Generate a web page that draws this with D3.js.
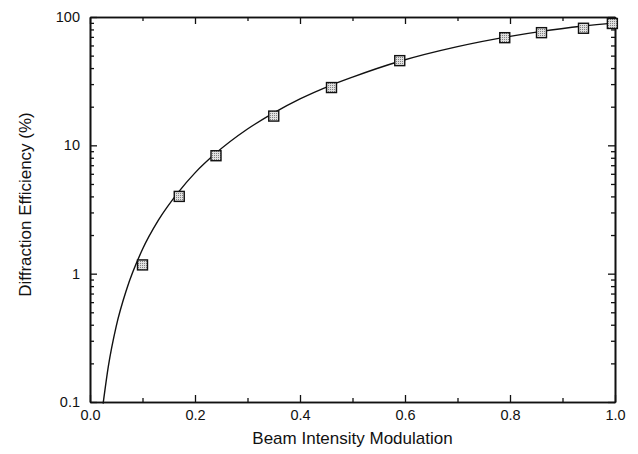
<!DOCTYPE html>
<html>
<head>
<meta charset="utf-8">
<script src="https://cdn.jsdelivr.net/npm/d3@7"></script>
<style>
  body { margin: 0; background: #fff; }
  svg text { font-family: "Liberation Sans", Arial, sans-serif; fill: #111; }
</style>
</head>
<body>
<div id="chart"></div>
<script>
// measured points
const modulation = [0.10, 0.17, 0.24, 0.35, 0.46, 0.59, 0.79, 0.86, 0.94, 0.995];
const efficiency = [1.17, 4.0, 8.3, 16.9, 28.2, 45.7, 69, 75.5, 81.7, 89];

// fitted curve
const curveX = [0.025, 0.035, 0.05, 0.07, 0.10, 0.13, 0.17, 0.20, 0.24, 0.30, 0.35, 0.40, 0.46, 0.50, 0.59, 0.70, 0.80, 0.86, 0.94, 1.00];
const curveY = [0.097, 0.19, 0.39, 0.76, 1.55, 2.6, 4.4, 6.1, 8.7, 13.4, 17.9, 23, 29.5, 34, 45.2, 58.8, 70.7, 77.3, 85, 90];

const xTicks = [0, 0.2, 0.4, 0.6, 0.8, 1.0];
const yTicks = [0.1, 1, 10, 100];

const W = 638, H = 454;
const margin = {top: 17, right: 23, bottom: 52, left: 90};
const width = W - margin.left - margin.right;
const height = H - margin.top - margin.bottom;

const svg = d3.select("#chart").append("svg")
    .attr("width", W)
    .attr("height", H);
const g = svg.append("g")
    .attr("transform", `translate(${margin.left},${margin.top})`);

const x = d3.scaleLinear().domain([0, 1]).range([0, width]);
const y = d3.scaleLog().domain([0.1, 100]).range([height, 0]);

// minor ticks
const xMinor = d3.range(0.1, 1, 0.2);
const yMinor = [];
[0.1, 1, 10].forEach(d => { for (let k = 2; k <= 9; k++) yMinor.push(d * k); });

// axes, ticks pointing inward on all four sides
const fmtX = d3.format(".1f");
g.append("g").attr("transform", `translate(0,${height})`)
    .call(d3.axisBottom(x).tickValues(xTicks).tickFormat(fmtX).tickSizeInner(-7).tickSizeOuter(0).tickPadding(8));
g.append("g")
    .call(d3.axisTop(x).tickValues(xTicks).tickFormat("").tickSizeInner(-7).tickSizeOuter(0));
g.append("g")
    .call(d3.axisLeft(y).tickValues(yTicks).tickFormat(d => d < 1 ? "0.1" : d3.format("d")(d)).tickSizeInner(-7).tickSizeOuter(0).tickPadding(10));
g.append("g").attr("transform", `translate(${width},0)`)
    .call(d3.axisRight(y).tickValues(yTicks).tickFormat("").tickSizeInner(-7).tickSizeOuter(0));

g.append("g").attr("transform", `translate(0,${height})`)
    .call(d3.axisBottom(x).tickValues(xMinor).tickFormat("").tickSizeInner(-4).tickSizeOuter(0));
g.append("g")
    .call(d3.axisTop(x).tickValues(xMinor).tickFormat("").tickSizeInner(-4).tickSizeOuter(0));
g.append("g")
    .call(d3.axisLeft(y).tickValues(yMinor).tickFormat("").tickSizeInner(-4).tickSizeOuter(0));
g.append("g").attr("transform", `translate(${width},0)`)
    .call(d3.axisRight(y).tickValues(yMinor).tickFormat("").tickSizeInner(-4).tickSizeOuter(0));

g.selectAll(".domain").attr("stroke", "#111").attr("stroke-width", 1.6);
g.selectAll(".tick line").attr("stroke", "#111").attr("stroke-width", 1.3);
g.selectAll(".tick text").style("font-size", "14.5px").attr("fill", "#111");

// curve
const line = d3.line()
    .x((d, i) => x(curveX[i]))
    .y(d => y(d))
    .curve(d3.curveMonotoneX);
g.append("path")
    .datum(curveY)
    .attr("d", line)
    .attr("fill", "none")
    .attr("stroke", "#111")
    .attr("stroke-width", 1.4);

// markers
const defs = svg.append("defs");
const pat = defs.append("pattern")
    .attr("id", "dots").attr("width", 2).attr("height", 2)
    .attr("patternUnits", "userSpaceOnUse");
pat.append("rect").attr("width", 2).attr("height", 2).attr("fill", "#e0e0e0");
pat.append("rect").attr("width", 1).attr("height", 1).attr("fill", "#808080");

const s = 10;
g.selectAll(".pt")
    .data(modulation)
    .enter().append("rect")
    .attr("class", "pt")
    .attr("x", d => x(d) - s / 2)
    .attr("y", (d, i) => y(efficiency[i]) - s / 2)
    .attr("width", s)
    .attr("height", s)
    .attr("fill", "url(#dots)")
    .attr("stroke", "#111")
    .attr("stroke-width", 1.4);

// axis titles
svg.append("text")
    .attr("x", margin.left + width / 2)
    .attr("y", 444)
    .attr("text-anchor", "middle")
    .style("font-size", "17px")
    .text("Beam Intensity Modulation");

svg.append("text")
    .attr("transform", `translate(31,${margin.top + height / 2 - 5}) rotate(-90)`)
    .attr("text-anchor", "middle")
    .style("font-size", "17px")
    .text("Diffraction Efficiency (%)");
</script>
</body>
</html>
